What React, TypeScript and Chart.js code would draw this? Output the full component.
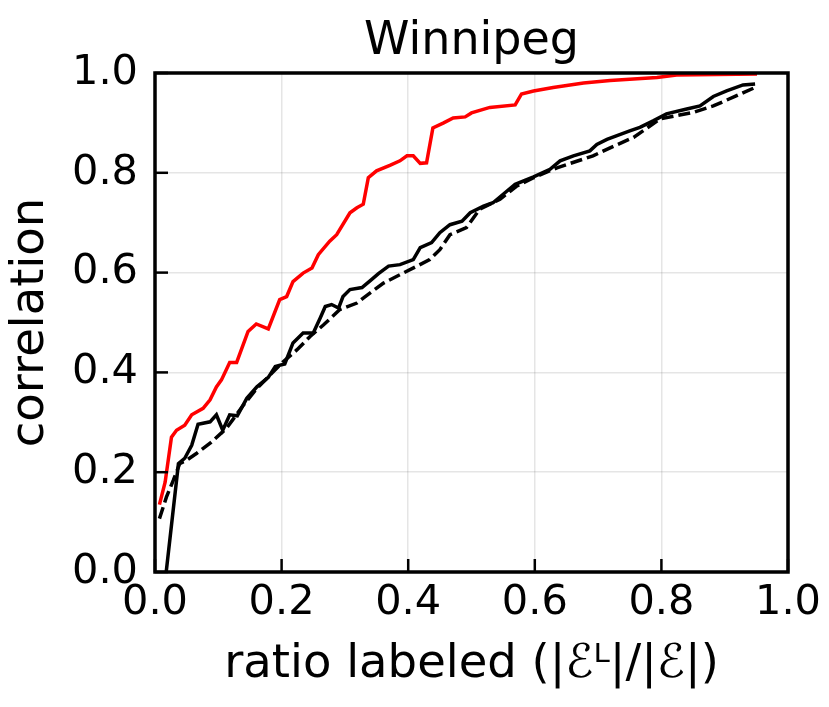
import React, { useEffect, useRef } from "react";
import { Chart, registerables } from "chart.js";

Chart.register(...registerables);

const chartTitle = "Winnipeg";
const xAxisTitle = "ratio labeled (|ℰᴸ|/|ℰ|)";
const yAxisTitle = "correlation";
const xTickValues = [0, 0.2, 0.4, 0.6, 0.8, 1.0];
const yTickValues = [0, 0.2, 0.4, 0.6, 0.8, 1.0];

const redX = [0.007, 0.016, 0.026, 0.034, 0.047, 0.058, 0.076, 0.087, 0.097, 0.105, 0.118, 0.129, 0.147, 0.16, 0.179, 0.197, 0.208, 0.218, 0.234, 0.248, 0.258, 0.276, 0.287, 0.308, 0.319, 0.329, 0.337, 0.35, 0.371, 0.387, 0.398, 0.408, 0.419, 0.429, 0.439, 0.456, 0.471, 0.49, 0.5, 0.529, 0.569, 0.579, 0.598, 0.629, 0.677, 0.719, 0.793, 0.824, 0.951];
const redY = [0.135, 0.18, 0.27, 0.284, 0.294, 0.315, 0.328, 0.345, 0.371, 0.385, 0.42, 0.42, 0.482, 0.497, 0.487, 0.546, 0.552, 0.582, 0.599, 0.609, 0.636, 0.663, 0.676, 0.72, 0.73, 0.737, 0.79, 0.804, 0.815, 0.824, 0.834, 0.834, 0.819, 0.82, 0.89, 0.9, 0.91, 0.912, 0.92, 0.931, 0.936, 0.958, 0.964, 0.971, 0.98, 0.985, 0.991, 0.996, 0.998];

const solidX = [0.007, 0.037, 0.047, 0.058, 0.068, 0.087, 0.097, 0.107, 0.118, 0.13, 0.145, 0.161, 0.179, 0.19, 0.205, 0.218, 0.234, 0.25, 0.261, 0.269, 0.279, 0.29, 0.297, 0.308, 0.327, 0.342, 0.353, 0.369, 0.387, 0.408, 0.419, 0.437, 0.45, 0.466, 0.485, 0.498, 0.519, 0.534, 0.55, 0.569, 0.598, 0.624, 0.64, 0.661, 0.687, 0.698, 0.714, 0.75, 0.766, 0.787, 0.808, 0.84, 0.861, 0.882, 0.903, 0.929, 0.948];
const solidY = [-0.12, 0.217, 0.228, 0.254, 0.296, 0.301, 0.315, 0.284, 0.315, 0.313, 0.348, 0.371, 0.39, 0.412, 0.417, 0.459, 0.479, 0.479, 0.509, 0.532, 0.536, 0.529, 0.552, 0.566, 0.57, 0.586, 0.598, 0.613, 0.616, 0.626, 0.65, 0.66, 0.68, 0.696, 0.703, 0.72, 0.733, 0.74, 0.757, 0.777, 0.792, 0.807, 0.824, 0.834, 0.844, 0.857, 0.867, 0.884, 0.891, 0.904, 0.918, 0.928, 0.934, 0.953, 0.964, 0.976, 0.978];

const dashedX = [0.007, 0.018, 0.029, 0.039, 0.05, 0.066, 0.087, 0.113, 0.14, 0.161, 0.182, 0.203, 0.224, 0.245, 0.266, 0.292, 0.319, 0.329, 0.361, 0.392, 0.434, 0.45, 0.466, 0.492, 0.513, 0.545, 0.571, 0.598, 0.635, 0.692, 0.719, 0.756, 0.798, 0.85, 0.882, 0.918, 0.948];
const dashedY = [0.107, 0.15, 0.184, 0.217, 0.224, 0.238, 0.258, 0.288, 0.335, 0.368, 0.395, 0.422, 0.445, 0.472, 0.495, 0.526, 0.539, 0.549, 0.579, 0.599, 0.626, 0.646, 0.676, 0.69, 0.727, 0.747, 0.773, 0.79, 0.81, 0.834, 0.85, 0.871, 0.908, 0.921, 0.934, 0.954, 0.971];

const toPoints = (xs: number[], ys: number[]) => xs.map((x, i) => ({ x, y: ys[i] }));

const FONT = "'DejaVu Sans', 'Liberation Sans', sans-serif";

const framePlugin = {
  id: "frame",
  afterDatasetsDraw(chart: any) {
    const { ctx, chartArea, scales } = chart;
    const { left, right, top, bottom } = chartArea;
    ctx.save();
    ctx.strokeStyle = "#000";
    ctx.lineCap = "butt";
    ctx.lineWidth = 2.5;
    const tl = 13;
    xTickValues.forEach((v) => {
      const px = scales.x.getPixelForValue(v);
      ctx.beginPath();
      ctx.moveTo(px, bottom);
      ctx.lineTo(px, bottom - tl);
      ctx.stroke();
    });
    yTickValues.forEach((v) => {
      const py = scales.y.getPixelForValue(v);
      ctx.beginPath();
      ctx.moveTo(left, py);
      ctx.lineTo(left + tl, py);
      ctx.stroke();
    });
    ctx.lineWidth = 3.5;
    ctx.lineJoin = "miter";
    ctx.beginPath();
    ctx.rect(left, top, right - left, bottom - top);
    ctx.stroke();
    // title centred over the plot area
    ctx.fillStyle = "#000";
    ctx.font = `normal 46px ${FONT}`;
    ctx.textAlign = "center";
    ctx.textBaseline = "alphabetic";
    ctx.fillText(chartTitle, (left + right) / 2, 53.5);
    ctx.restore();
  },
};

export default function App() {
  const canvasRef = useRef<HTMLCanvasElement | null>(null);

  useEffect(() => {
    const canvas = canvasRef.current;
    if (!canvas) return;
    Chart.defaults.font.family = FONT;
    Chart.defaults.color = "#000";

    const lineBase = {
      borderWidth: 3.5,
      pointRadius: 0,
      fill: false,
      tension: 0,
      clip: 0,
    };

    const chart = new Chart(canvas, {
      type: "line",
      data: {
        datasets: [
          { ...lineBase, label: "dashed", data: toPoints(dashedX, dashedY), borderColor: "#000", borderDash: [12, 5] },
          { ...lineBase, label: "solid", data: toPoints(solidX, solidY), borderColor: "#000" },
          { ...lineBase, label: "red", data: toPoints(redX, redY), borderColor: "#ff0000" },
        ],
      },
      options: {
        responsive: false,
        animation: false,
        events: [],
        layout: { padding: { top: 73, left: 0, right: 41, bottom: 0 } },
        plugins: {
          legend: { display: false },
          tooltip: { enabled: false },
          title: { display: false },
        },
        scales: {
          x: {
            type: "linear",
            min: 0,
            max: 1,
            afterBuildTicks: (scale: any) => {
              scale.ticks = xTickValues.map((v) => ({ value: v }));
            },
            afterFit: (scale: any) => {
              scale.height = 135;
            },
            ticks: {
              callback: (v: any) => Number(v).toFixed(1),
              font: { family: FONT, size: 41.5 },
              color: "#000",
              padding: 6,
              maxRotation: 0,
              autoSkip: false,
            },
            grid: { color: "rgba(0,0,0,0.1)", lineWidth: 1.5, drawTicks: false },
            border: { display: false },
            title: {
              display: true,
              text: xAxisTitle,
              color: "#000",
              font: { family: FONT, size: 46.5, lineHeight: 1.2 },
              padding: { top: 0, bottom: 14.4 },
            },
          },
          y: {
            type: "linear",
            min: 0,
            max: 1,
            afterBuildTicks: (scale: any) => {
              scale.ticks = yTickValues.map((v) => ({ value: v }));
            },
            afterFit: (scale: any) => {
              scale.width = 155;
            },
            ticks: {
              callback: (v: any) => Number(v).toFixed(1),
              font: { family: FONT, size: 41.5 },
              color: "#000",
              padding: 17,
              autoSkip: false,
            },
            grid: { color: "rgba(0,0,0,0.1)", lineWidth: 1.5, drawTicks: false },
            border: { display: false },
            title: {
              display: true,
              text: yAxisTitle,
              color: "#000",
              font: { family: FONT, size: 46.5, lineHeight: 1.2 },
              padding: { top: 2.8, bottom: 0 },
            },
          },
        },
      } as any,
      plugins: [framePlugin],
    });
    return () => chart.destroy();
  }, []);

  return (
    <div style={{ position: "absolute", left: 0, top: 0, width: 829, height: 707, background: "#fff" }}>
      <canvas ref={canvasRef} width={829} height={707} style={{ display: "block" }} />
    </div>
  );
}
